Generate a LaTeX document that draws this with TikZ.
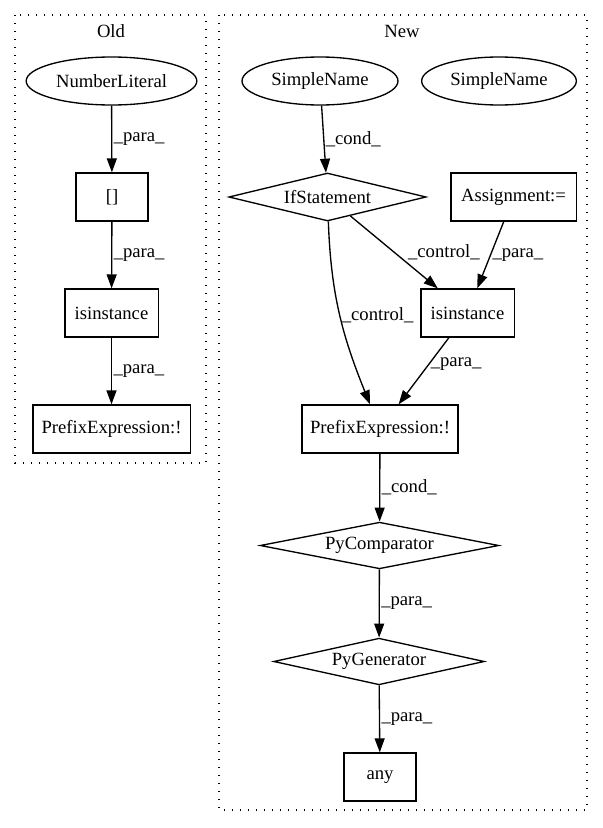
\documentclass[tikz,border=0pt]{standalone}
\usepackage{fontspec}
\setmainfont{Liberation Serif}
\usetikzlibrary{arrows.meta,shapes.geometric,positioning}

\begin{document}
\begin{tikzpicture}[x=0.75pt,y=-0.75pt,>={Triangle[length=10.5pt,width=7.5pt]},
  every node/.style={font=\fontsize{14}{16}\selectfont},
  box/.style={draw,line width=1pt,minimum height=36pt,inner sep=0pt},
  oval/.style={draw,ellipse,line width=1pt,minimum height=36pt,inner sep=0pt},
  cond/.style={draw,diamond,aspect=4,line width=1pt,minimum height=36pt,inner sep=0pt},
  lbl/.style={right,inner sep=1pt},
  edge/.style={->,line width=1pt},
  cluster/.style={draw,line width=1pt,dash pattern=on 1pt off 5pt}]
\useasboundingbox (0,0) rectangle (603,828);

% clusters
\draw[cluster] (15,15) rectangle (206,463);
\draw[cluster] (219,15) rectangle (587,810);
\node (oldlbl) at (111,31) {Old};
\node (newlbl) at (402,31) {New};

% old
\node[oval,minimum width=128pt] (numlit) at (111.5,81) {NumberLiteral};
\node[box,minimum width=54pt] (idx) at (112,197) {[]};
\node[box,minimum width=70pt] (inst1) at (111.5,313) {isinstance};
\node[box,minimum width=118pt] (pre1) at (111.5,429) {PrefixExpression:!};

\draw[edge] (numlit) -- node[lbl] {\_para\_} (idx);
\draw[edge] (idx) -- node[lbl] {\_para\_} (inst1);
\draw[edge] (inst1) -- node[lbl] {\_para\_} (pre1);

% new
\node[oval,minimum width=117pt] (sname1) at (320,81) {SimpleName};
\node[oval,minimum width=116pt] (sname2) at (499,81) {SimpleName};
\node[cond,minimum width=148pt] (ifst) at (327.5,197) {IfStatement};
\node[box,minimum width=94pt] (assign) at (513.5,197) {Assignment:=};
\node[box,minimum width=70pt] (inst2) at (467.5,313) {isinstance};
\node[box,minimum width=117pt] (pre2) at (380,429) {PrefixExpression:!};
\node[cond,minimum width=179pt,minimum height=35pt] (pycomp) at (379.5,545.5) {PyComparator};
\node[cond,minimum width=158pt,minimum height=35pt] (pygen) at (379,661.5) {PyGenerator};
\node[box,minimum width=54pt] (any) at (380,777) {any};

\draw[edge] (sname1) -- node[lbl] {\_cond\_} (ifst);
\draw[edge] (ifst) -- node[lbl,xshift=9pt] {\_control\_} (inst2);
\draw[edge] (assign) -- node[lbl] {\_para\_} (inst2);
\draw[edge] (ifst) to[out=-88,in=112] node[lbl,pos=0.5] {\_control\_} (pre2);
\draw[edge] (inst2) -- node[lbl,pos=0.4] {\_para\_} (pre2);
\draw[edge] (pre2) -- node[lbl] {\_cond\_} (pycomp);
\draw[edge] (pycomp) -- node[lbl] {\_para\_} (pygen);
\draw[edge] (pygen) -- node[lbl] {\_para\_} (any);
\end{tikzpicture}
\end{document}
